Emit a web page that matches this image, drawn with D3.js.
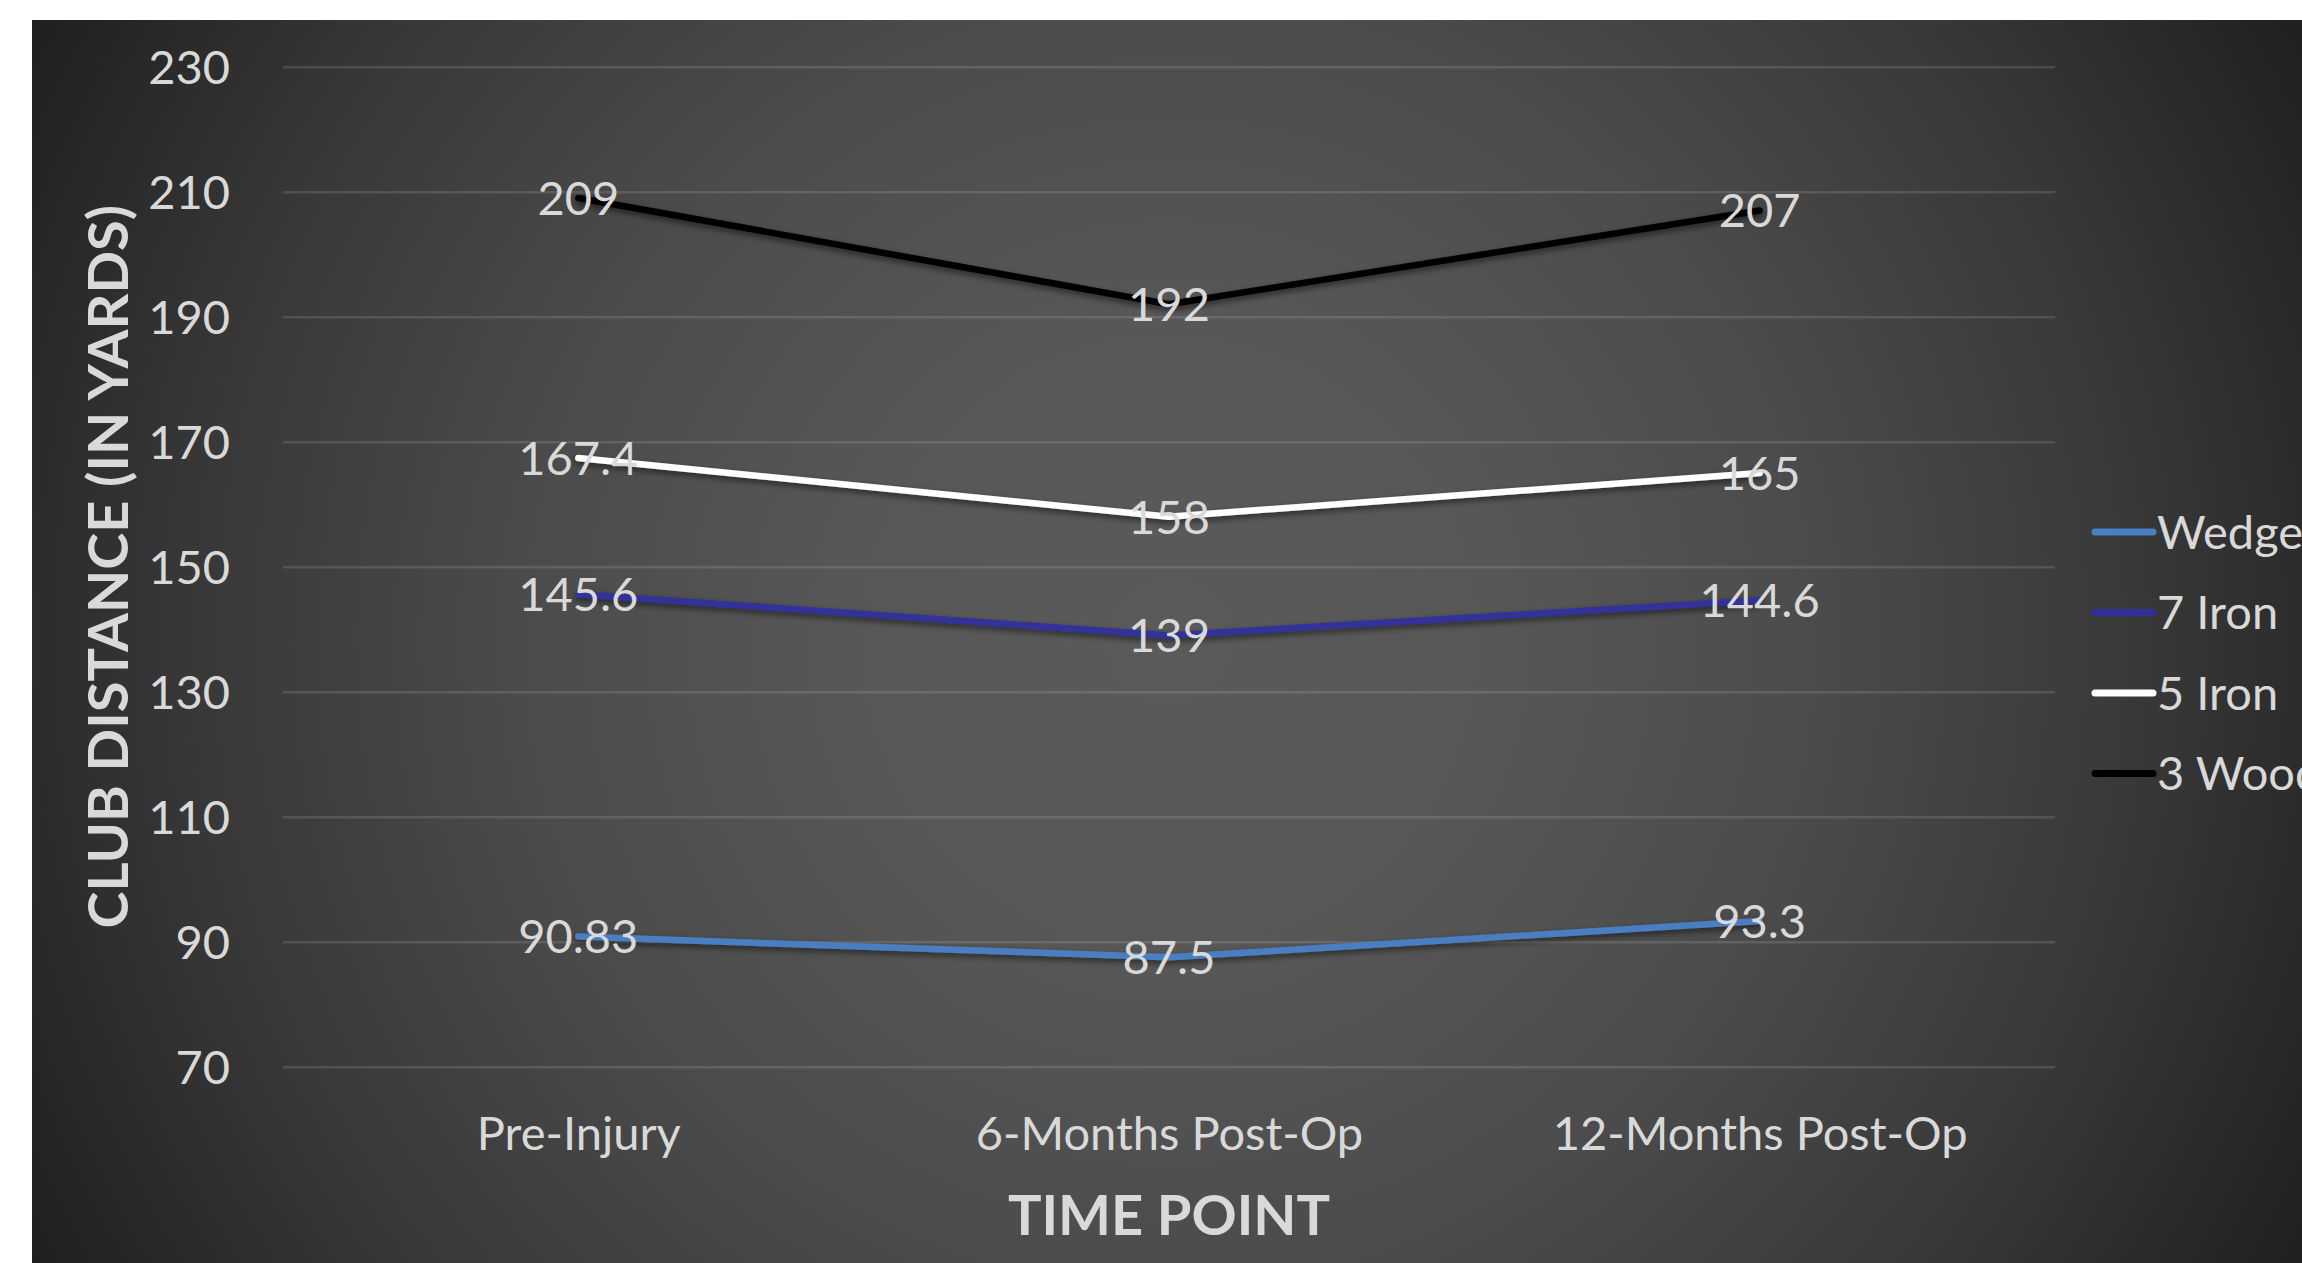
<!DOCTYPE html>
<html>
<head>
<meta charset="utf-8">
<script src="https://cdn.jsdelivr.net/npm/d3@7"></script>
<style>
  body { margin: 0; background: #ffffff; }
  #chart text { font-family: Lato, "Open Sans", sans-serif; fill: #d9d9d9; }
</style>
</head>
<body>
<div id="chart"></div>
<script>
// data
var categories = ["Pre-Injury", "6-Months Post-Op", "12-Months Post-Op"];
var seriesNames = ["Wedge", "7 Iron", "5 Iron", "3 Wood"];
var wedge = [90.83, 87.5, 93.3];
var iron7 = [145.6, 139, 144.6];
var iron5 = [167.4, 158, 165];
var wood3 = [209, 192, 207];
var yTicks = [70, 90, 110, 130, 150, 170, 190, 210, 230];

var colors = ["#4a7fc2", "#30309a", "#ffffff", "#000000"];
var allSeries = [wedge, iron7, iron5, wood3];

var w = 2302, h = 1263;
// plot box (don't call it "top", that's window.top)
var plotLeft = 283, plotRight = 2055, plotTop = 66.7, plotBottom = 1066.7;
var fontSize = 47, titleSize = 56;

var svg = d3.select("#chart")
  .append("svg")
  .attr("width", w)
  .attr("height", h);

var defs = svg.append("defs");

// radial background like the excel preset
var grad = defs.append("radialGradient")
  .attr("id", "bg")
  .attr("gradientUnits", "userSpaceOnUse")
  .attr("cx", 1170).attr("cy", 642).attr("r", 1300);
[[0, "#5a5a5a"], [0.25, "#575757"], [0.5, "#4b4b4b"], [0.75, "#383838"], [1, "#1f1f1f"]]
  .forEach(function(s){
    grad.append("stop").attr("offset", s[0]).attr("stop-color", s[1]);
  });

var shadow = defs.append("filter")
  .attr("id", "shadow")
  .attr("x", "-10%").attr("y", "-50%")
  .attr("width", "120%").attr("height", "200%");
shadow.append("feDropShadow")
  .attr("dx", 0).attr("dy", 3)
  .attr("stdDeviation", 3)
  .attr("flood-color", "#000")
  .attr("flood-opacity", 0.55);

svg.append("rect")
  .attr("x", 32).attr("y", 20)
  .attr("width", w - 32).attr("height", h - 20)
  .attr("fill", "url(#bg)");

var x = d3.scalePoint()
  .domain(categories)
  .range([plotLeft, plotRight])
  .padding(0.5);

var y = d3.scaleLinear()
  .domain([70, 230])
  .range([plotBottom, plotTop]);

// y axis + gridlines
var yAxis = svg.append("g")
  .attr("transform", "translate(" + plotLeft + ",0)")
  .call(d3.axisLeft(y)
    .tickValues(yTicks)
    .tickSize(-(plotRight - plotLeft))
    .tickPadding(53));
yAxis.select(".domain").remove();
yAxis.selectAll("line")
  .attr("stroke", "#ffffff")
  .attr("stroke-opacity", 0.12)
  .attr("stroke-width", 2.5);
yAxis.selectAll("text")
  .style("font-size", fontSize + "px")
  .attr("dy", "0.36em");

// x axis
var xAxis = svg.append("g")
  .attr("transform", "translate(0," + plotBottom + ")")
  .call(d3.axisBottom(x).tickSize(0).tickPadding(50));
xAxis.select(".domain").remove();
xAxis.selectAll("text")
  .style("font-size", fontSize + "px");

// lines
var line = d3.line()
  .x(function(d, i){ return x(categories[i]); })
  .y(function(d){ return y(d); });

svg.selectAll(".series")
  .data(allSeries)
  .enter()
  .append("path")
  .attr("class", "series")
  .attr("d", line)
  .attr("fill", "none")
  .attr("stroke", function(d, i){ return colors[i]; })
  .attr("stroke-width", 6.5)
  .attr("stroke-linecap", "round")
  .attr("stroke-linejoin", "round")
  .attr("filter", "url(#shadow)");

// data labels, centered on the points
allSeries.forEach(function(s){
  svg.append("g")
    .selectAll("text")
    .data(s)
    .enter()
    .append("text")
    .attr("x", function(d, i){ return x(categories[i]); })
    .attr("y", function(d){ return y(d); })
    .attr("dy", "0.36em")
    .attr("text-anchor", "middle")
    .style("font-size", fontSize + "px")
    .text(function(d){ return d; });
});

// axis titles
svg.append("text")
  .attr("transform", "translate(128," + ((plotTop + plotBottom) / 2) + ") rotate(-90)")
  .attr("text-anchor", "middle")
  .style("font-size", titleSize + "px")
  .style("font-weight", "bold")
  .text("CLUB DISTANCE (IN YARDS)");

svg.append("text")
  .attr("x", (plotLeft + plotRight) / 2)
  .attr("y", 1235)
  .attr("text-anchor", "middle")
  .style("font-size", titleSize + "px")
  .style("font-weight", "bold")
  .text("TIME POINT");

// legend
var legendTop = 532, legendStep = 80.5;
var legend = svg.selectAll(".legend")
  .data(seriesNames)
  .enter()
  .append("g")
  .attr("class", "legend")
  .attr("transform", function(d, i){ return "translate(2095," + (legendTop + i * legendStep) + ")"; });

legend.append("line")
  .attr("x1", 0).attr("x2", 58)
  .attr("stroke", function(d, i){ return colors[i]; })
  .attr("stroke-width", 7)
  .attr("stroke-linecap", "round");

legend.append("text")
  .attr("x", 62)
  .attr("dy", "0.36em")
  .style("font-size", fontSize + "px")
  .text(function(d){ return d; });
</script>
</body>
</html>
